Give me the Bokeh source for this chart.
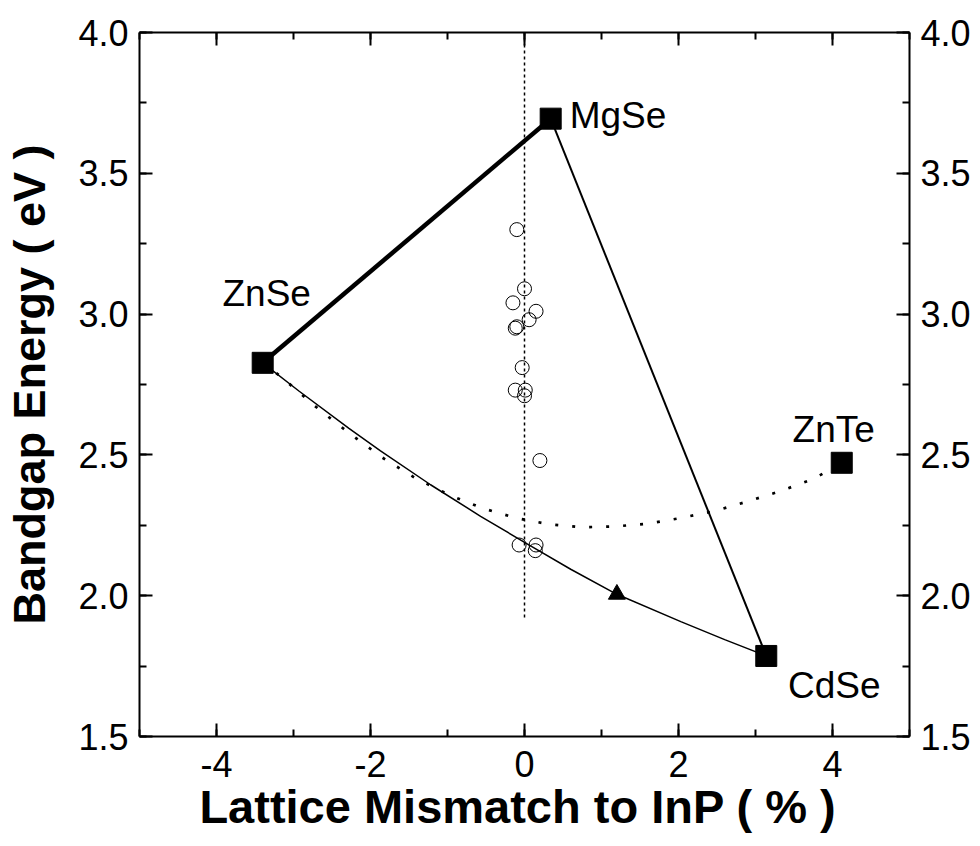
from bokeh.plotting import figure
from bokeh.models import (LinearAxis, SingleIntervalTicker, Range1d, Label,
                          PrintfTickFormatter, CustomJSTickFormatter)
from bokeh.embed import file_html
from bokeh.resources import INLINE

# ---------------- data ----------------
binary_names = ["ZnSe", "MgSe", "CdSe", "ZnTe"]
binary_mismatch = [-3.40, 0.34, 3.14, 4.12]
binary_gap = [2.827, 3.694, 1.786, 2.472]

# ZnSe - MgSe (thick) and MgSe - CdSe (thin) tie lines
znmgse_x = [-3.40, 0.34]
znmgse_y = [2.827, 3.694]
mgcdse_x = [0.34, 3.14]
mgcdse_y = [3.694, 1.786]

# ZnCdSe bowing curve (solid)
zncdse_x = [-3.40, -2.93, -2.28, -1.87, -1.22, -0.57, 0.04, 0.60, 1.20, 2.03, 2.60, 3.14]
zncdse_y = [2.827, 2.727, 2.594, 2.514, 2.394, 2.282, 2.183, 2.094, 2.005, 1.908, 1.844, 1.786]

# ZnSeTe bowing curve (dotted)
znsete_x = [-3.40, -3.15, -2.72, -2.28, -1.85, -1.42, -0.98, -0.55, -0.11, 0.31,
            0.74, 1.18, 1.61, 2.03, 2.46, 2.90, 3.33, 3.77, 4.12]
znsete_y = [2.827, 2.775, 2.673, 2.578, 2.491, 2.418, 2.358, 2.311, 2.276, 2.254,
            2.243, 2.246, 2.256, 2.276, 2.300, 2.335, 2.372, 2.417, 2.472]

# lattice-matched reference line (x = 0)
ref_x = [0.0, 0.0]
ref_y = [4.0, 1.92]

# measured samples (open circles)
sample_mismatch = [-0.10, 0.00, -0.15, 0.15, 0.06, -0.12, -0.10, -0.03, -0.12,
                   0.01, 0.00, 0.20, -0.07, 0.15, 0.14]
sample_gap = [3.30, 3.09, 3.04, 3.01, 2.98, 2.95, 2.955, 2.81, 2.73,
              2.73, 2.71, 2.48, 2.18, 2.18, 2.16]

# triangle point
tri_x = [1.20]
tri_y = [2.005]

# ---------------- figure ----------------
p = figure(width=980, height=846, x_range=Range1d(-5, 5), y_range=Range1d(1.5, 4.0),
           output_backend="svg", toolbar_location=None,
           min_border_left=139, min_border_right=71, min_border_top=32,
           min_border_bottom=110)
p.grid.visible = False
p.outline_line_color = None
p.background_fill_color = "white"
p.border_fill_color = "white"

x_ticker = SingleIntervalTicker(interval=2, num_minor_ticks=2)
y_ticker = SingleIntervalTicker(interval=0.5, num_minor_ticks=2)


def style(ax):
    ax.axis_line_width = 2
    ax.axis_line_color = "black"
    ax.major_tick_in = 13
    ax.major_tick_out = 0
    ax.minor_tick_in = 7
    ax.minor_tick_out = 0
    ax.major_tick_line_width = 2
    ax.minor_tick_line_width = 2
    ax.major_tick_line_color = "black"
    ax.minor_tick_line_color = "black"
    ax.major_label_text_font = "Liberation Sans"
    ax.major_label_text_font_size = "36px"
    ax.major_label_text_color = "black"


xb = p.xaxis[0]
xb.ticker = x_ticker
xb.formatter = PrintfTickFormatter(format="%d")
style(xb)
xb.major_label_standoff = 14
xb.axis_label = "Lattice Mismatch to InP  ( % )"
xb.axis_label_text_font = "Liberation Sans"
xb.axis_label_text_font_style = "bold"
xb.axis_label_text_font_size = "47px"
xb.axis_label_text_color = "black"
xb.axis_label_standoff = 0

yl = p.yaxis[0]
yl.ticker = y_ticker
yl.formatter = PrintfTickFormatter(format="%.1f")
style(yl)
yl.major_label_standoff = 11
yl.axis_label = "Bandgap Energy ( eV )"
yl.axis_label_text_font = "Liberation Sans"
yl.axis_label_text_font_style = "bold"
yl.axis_label_text_font_size = "45px"
yl.axis_label_text_color = "black"
yl.axis_label_standoff = 20

xt = LinearAxis(ticker=x_ticker, formatter=CustomJSTickFormatter(code="return ''"))
style(xt)
p.add_layout(xt, "above")

yr = LinearAxis(ticker=y_ticker, formatter=PrintfTickFormatter(format="%.1f"))
style(yr)
yr.major_label_standoff = 11
p.add_layout(yr, "right")

# ---------------- glyphs ----------------
p.line(ref_x, ref_y, line_color="black", line_width=1.5, line_dash="3 3")
p.line(znsete_x, znsete_y, line_color="black", line_width=2.7, line_dash="3 14")
p.line(zncdse_x, zncdse_y, line_color="black", line_width=1.5)
p.line(znmgse_x, znmgse_y, line_color="black", line_width=4.5)
p.line(mgcdse_x, mgcdse_y, line_color="black", line_width=2)

p.scatter(sample_mismatch, sample_gap, marker="circle", size=14,
          fill_color=None, line_color="black", line_width=1)
p.scatter(tri_x, tri_y, marker="triangle", size=17, fill_color="black",
          line_color="black")
p.scatter(binary_mismatch, binary_gap, marker="square", size=21,
          fill_color="black", line_color="black")

# compound labels, offset in pixels from their squares
offsets = {"ZnSe": (4, 69, "center"), "MgSe": (19, 3, "left"),
           "CdSe": (68, -30, "center"), "ZnTe": (-8, 33, "center")}
for name, bx, by in zip(binary_names, binary_mismatch, binary_gap):
    dx, dy, align = offsets[name]
    p.add_layout(Label(x=bx, y=by, x_offset=dx, y_offset=dy, text=name,
                       text_font="Liberation Sans", text_font_size="37px",
                       text_color="black", text_align=align,
                       text_baseline="alphabetic"))

open("out.html", "w").write(file_html(p, INLINE))
